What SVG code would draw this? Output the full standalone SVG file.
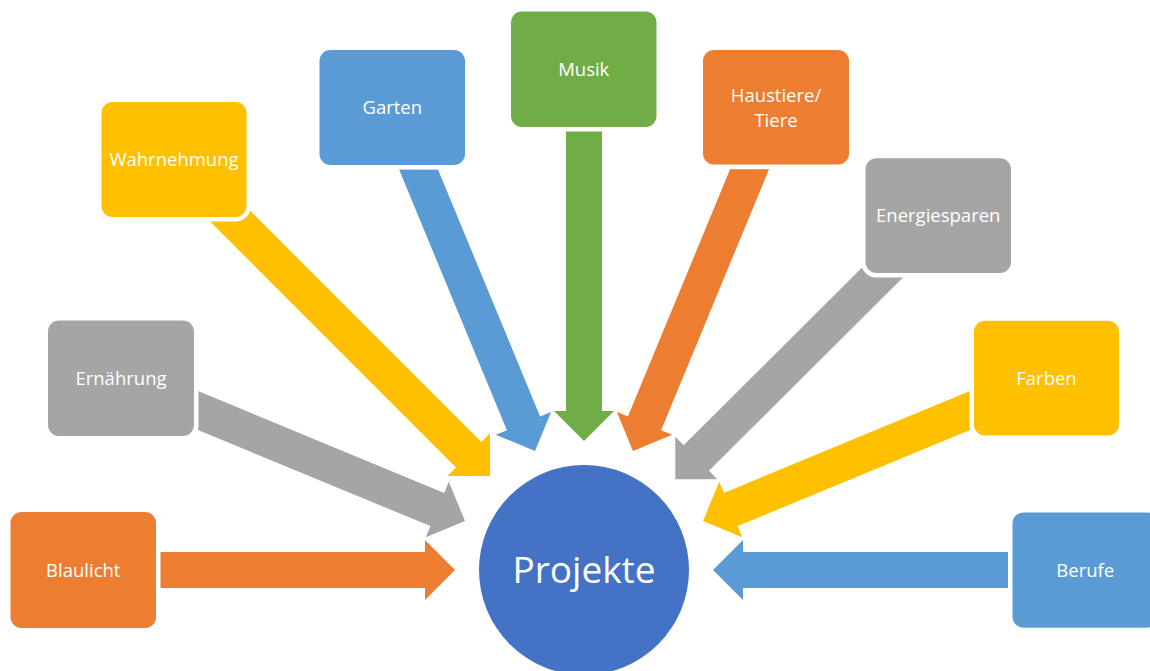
<svg xmlns="http://www.w3.org/2000/svg" width="1150" height="671" viewBox="0 0 1150 671">
<style>
.box{stroke:#FFFFFF;stroke-width:9;paint-order:stroke fill}
.lbl{font-family:"Open Sans","Liberation Sans",sans-serif;font-size:18.5px;fill:#FFFFFF;text-anchor:middle}
.orange{fill:#ED7D31}
.gray{fill:#A5A5A5}
.yellow{fill:#FFC000}
.blue{fill:#5B9BD5}
.green{fill:#70AD47}
</style>
<rect width="1150" height="671" fill="#FFFFFF"/>
<g id="connectors">
<polygon class="orange" points="160,552 425,552 425,540 455,570 425,600 425,588 160,588"/>
<polygon class="gray" points="198,391.1 444.2,492.9 448.8,481.8 465,521 425.8,537.2 430.4,526.1 198,430"/>
<polygon class="yellow" points="199.3,210.7 224.7,185.3 481.4,442 490,433.3 490,476 447.3,476 456,467.4"/>
<polygon class="blue" points="399,169.3 437.9,169.3 540.1,416.4 551.2,411.8 535,451 495.8,434.8 506.9,430.2"/>
<polygon class="green" points="566,131 602,131 602,411 614,411 584,441 554,411 566,411"/>
<polygon class="orange" points="769,169.3 730.1,169.3 627.9,416.4 616.8,411.8 633,451 672.2,434.8 661.1,430.2"/>
<polygon class="gray" points="884.8,244.8 910.2,270.2 709,470.7 717.3,479.3 675.3,479.3 675.3,436.7 683.6,445.3"/>
<polygon class="yellow" points="970,391.1 723.8,492.9 719.2,481.8 703,521 742.2,537.2 737.6,526.1 970,430"/>
<polygon class="blue" points="1008,552 743,552 743,540 713,570 743,600 743,588 1008,588"/>
</g>
<g id="node-blaulicht">
<rect class="box orange" x="10.5" y="512" width="145.5" height="116" rx="11"/>
<text class="lbl" x="83.25" y="576.7">Blaulicht</text>
</g>
<g id="node-ernaehrung">
<rect class="box gray" x="48" y="320.5" width="146" height="115.5" rx="11"/>
<text class="lbl" x="121" y="384.9">Ernährung</text>
</g>
<g id="node-wahrnehmung">
<rect class="box yellow" x="101.5" y="102" width="145" height="115" rx="11"/>
<text class="lbl" x="174" y="166">Wahrnehmung</text>
</g>
<g id="node-garten">
<rect class="box blue" x="319.5" y="50" width="145.5" height="115" rx="11"/>
<text class="lbl" x="392.25" y="114">Garten</text>
</g>
<g id="node-musik">
<rect class="box green" x="511" y="11.5" width="145.5" height="115.5" rx="11"/>
<text class="lbl" x="583.75" y="75.8">Musik</text>
</g>
<g id="node-haustiere">
<rect class="box orange" x="703" y="50" width="146" height="114.5" rx="11"/>
<text class="lbl" x="776" y="101.5">Haustiere/<tspan x="776" dy="25.4">Tiere</tspan></text>
</g>
<g id="node-energiesparen">
<rect class="box gray" x="865.5" y="158.3" width="145.5" height="114.7" rx="11"/>
<text class="lbl" x="938.25" y="222.3">Energiesparen</text>
</g>
<g id="node-farben">
<rect class="box yellow" x="974" y="320.8" width="145" height="114.6" rx="11"/>
<text class="lbl" x="1046.5" y="384.7">Farben</text>
</g>
<g id="node-berufe">
<rect class="box blue" x="1012.5" y="512.4" width="145.5" height="115.3" rx="11"/>
<text class="lbl" x="1085.25" y="576.7">Berufe</text>
</g>
<g id="node-projekte">
<circle cx="584" cy="570" r="105" fill="#4472C4"/>
<text x="584" y="582.7" font-family="'Open Sans','Liberation Sans',sans-serif" font-size="37" fill="#FFFFFF" text-anchor="middle">Projekte</text>
</g>
</svg>
